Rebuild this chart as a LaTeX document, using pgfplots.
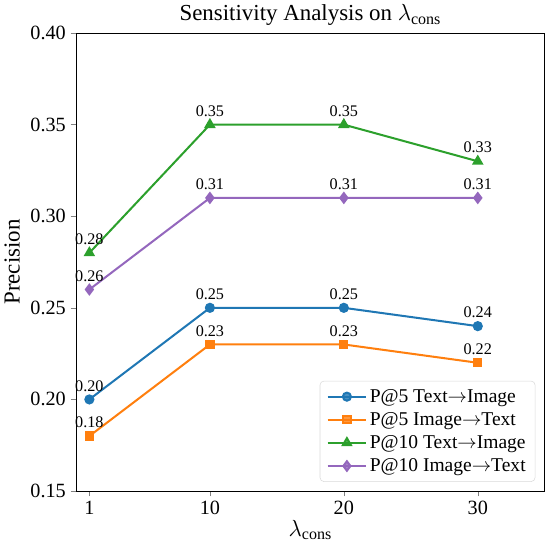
\documentclass[border=0pt]{standalone}
\usepackage{fontspec}
\setmainfont{Liberation Serif}
\usepackage{pgfplots}
\pgfplotsset{compat=1.18}
\definecolor{tblue}{HTML}{1F77B4}
\definecolor{torange}{HTML}{FF7F0E}
\definecolor{tgreen}{HTML}{2CA02C}
\definecolor{tpurple}{HTML}{9467BD}

\begin{document}
\begin{tikzpicture}
\begin{axis}[
    scale only axis,
    width=348pt, height=340pt,
    xmin=0, xmax=35,
    ymin=0.15, ymax=0.40,
    xtick={1,10,20,30},
    ytick={0.15,0.20,0.25,0.30,0.35,0.40},
    yticklabel style={/pgf/number format/.cd, fixed, fixed zerofill, precision=2},
    /pgf/number format/assume math mode=true,
    tick label style={font=\fontsize{15}{18}\selectfont},
    tick align=outside,
    xtick pos=bottom, ytick pos=left,
    major tick length=4pt,
    title={Sensitivity Analysis on $\lambda_{\mathrm{cons}}$},
    title style={font=\fontsize{17}{20}\selectfont, yshift=-4pt},
    xlabel={$\lambda_{\mathrm{cons}}$},
    xlabel style={font=\fontsize{17}{20}\selectfont, yshift=3pt},
    ylabel={Precision},
    ylabel style={font=\fontsize{17}{20}\selectfont, yshift=1pt},
    nodes near coords,
    nodes near coords style={font=\fontsize{12}{14}\selectfont, text=black, yshift=2pt,
        /pgf/number format/.cd, fixed, fixed zerofill, precision=2, assume math mode=true},
    every axis plot/.append style={line width=1.5pt},
    legend style={at={(0.98,0.02)}, anchor=south east, draw=gray!30, rounded corners=3pt,
        fill=white, fill opacity=0.8, text opacity=1, font=\fontsize{14.5}{17}\selectfont,
        row sep=2pt, inner xsep=5pt, inner ysep=4pt},
    legend cell align=left,
    legend image code/.code={\draw[mark repeat=2, mark phase=2]
        plot coordinates {(0cm,0cm) (0.5cm,0cm) (1.0cm,0cm)};},
]
\addplot[color=tblue, mark=*, mark size=3pt] coordinates {(1,0.20) (10,0.25) (20,0.25) (30,0.24)};
\addlegendentry{P@5 Text$\rightarrow$Image}
\addplot[color=torange, mark=square*, mark size=2.7pt] coordinates {(1,0.18) (10,0.23) (20,0.23) (30,0.22)};
\addlegendentry{P@5 Image$\rightarrow$Text}
\addplot[color=tgreen, mark=triangle*, mark size=3.5pt] coordinates {(1,0.28) (10,0.35) (20,0.35) (30,0.33)};
\addlegendentry{P@10 Text$\rightarrow$Image}
\addplot[color=tpurple, mark=diamond*, mark size=3.5pt] coordinates {(1,0.26) (10,0.31) (20,0.31) (30,0.31)};
\addlegendentry{P@10 Image$\rightarrow$Text}
\end{axis}
\end{tikzpicture}
\end{document}
